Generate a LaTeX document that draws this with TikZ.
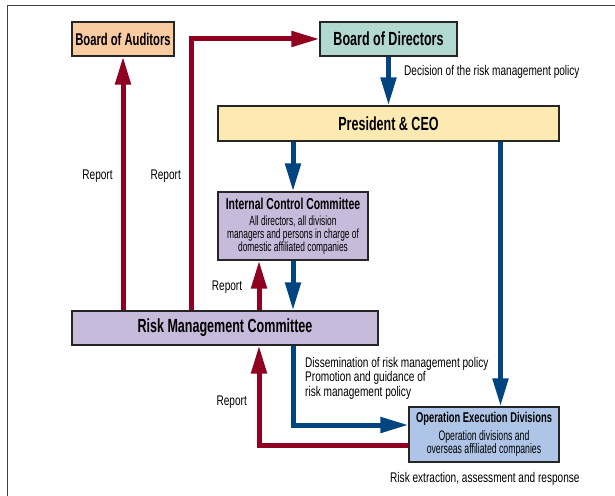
\documentclass[tikz,border=0pt]{standalone}
\usepackage{fontspec}
\setmainfont{Liberation Sans}
\newfontfamily\titlefont[FakeStretch=0.66]{Liberation Sans}
\newfontfamily\subfont[FakeStretch=0.63]{Liberation Sans}
\newfontfamily\lblfont[FakeStretch=0.72]{Liberation Sans}
\usetikzlibrary{arrows.meta}
\definecolor{auditfill}{HTML}{F9CBA0}
\definecolor{dirfill}{HTML}{B2D9D0}
\definecolor{ceofill}{HTML}{FDE9B2}
\definecolor{comfill}{HTML}{C6BBDB}
\definecolor{divfill}{HTML}{AFC5E8}
\definecolor{reportred}{HTML}{900020}
\definecolor{policyblue}{HTML}{00457F}

\begin{document}
\begin{tikzpicture}[
      x=1pt,y=-1pt,
      box/.style={draw=black!85,line width=1.2pt,inner sep=0pt,align=center},
      title/.style={font=\titlefont\bfseries\fontsize{19}{20}\selectfont},
      lbl/.style={font=\lblfont\fontsize{14}{14.5}\selectfont,inner sep=0pt},
      report/.style={line width=5pt,draw=reportred,-{Triangle[length=28pt,width=15pt]}},
      policy/.style={line width=5pt,draw=policyblue,-{Triangle[length=28pt,width=15pt]}},
      ]
      \useasboundingbox (0,0) rectangle (615,495);
      \clip (0,0) rectangle (615,495);
      \draw[draw=black!75,line width=1.5pt] (7.3,5.7) rectangle (650,530);

      % boxes
      \node[box,title,fill=auditfill,minimum width=102pt,minimum height=34pt,
        font=\titlefont\bfseries\fontsize{17}{18}\selectfont] (aud) at (123,39) {Board of Auditors};
      \node[box,title,fill=dirfill,minimum width=137pt,minimum height=34pt] (bod) at (388.5,39) {Board of Directors};
      \node[box,title,fill=ceofill,minimum width=341pt,minimum height=35pt] (ceo) at (388.5,123.5) {President \& CEO};
      \node[box,fill=comfill,minimum width=150pt,minimum height=68pt,
        font=\subfont\fontsize{13.3}{13}\selectfont] (icc) at (293,226)
        {{\titlefont\bfseries\fontsize{15.8}{13}\selectfont Internal Control Committee}\\[3.5pt]
         All directors, all division\\ managers and persons in charge of\\ domestic affiliated companies};
      \node[box,title,fill=comfill,minimum width=306pt,minimum height=34pt] (rmc) at (225,328) {Risk Management Committee};
      \node[box,fill=divfill,minimum width=150pt,minimum height=55pt,
        font=\subfont\fontsize{13.8}{12.7}\selectfont] (oed) at (484,434.5)
        {{\titlefont\bfseries\fontsize{14.2}{12.7}\selectfont Operation Execution Divisions}\\[3.5pt]
         Operation divisions and\\ overseas affiliated companies};

      % report lines
      \draw[report] (rmc.north -| aud.south) -- (aud.south);
      \draw[report] ([xshift=-33.5pt]rmc.north) |- (bod.west);
      \draw[report] ([xshift=-34pt]icc.south |- rmc.north) -- ([xshift=-34pt]icc.south);
      \draw[report] ([yshift=-10.5pt]oed.west) -| ([xshift=-34pt]icc.south |- rmc.south);

      % policy lines
      \draw[policy] (bod.south) -- (bod.south |- ceo.north);
      \draw[policy] (icc.north |- ceo.south) -- (icc.north);
      \draw[policy] (icc.south) -- (icc.south |- rmc.north);
      \draw[policy] (icc.south |- rmc.south) |- ([yshift=9.5pt]oed.west);
      \draw[policy] ([xshift=16.5pt]oed.north |- ceo.south) -- ([xshift=16.5pt]oed.north);

      % labels
      \node[lbl,anchor=west] (decide) at (404,72) {Decision of the risk management policy};
      \node[lbl] (rep1) at (97.5,176) {Report};
      \node[lbl] (rep2) at (165.7,176) {Report};
      \node[lbl] (rep3) at (227,287) {Report};
      \node[lbl] (rep4) at (231.7,402) {Report};
      \node[lbl,anchor=west,align=left] (spread) at (305,378)
        {Dissemination of risk management policy\\ Promotion and guidance of\\ risk management policy};
      \node[lbl,anchor=west] (extract) at (390,478.5) {Risk extraction, assessment and response};
\end{tikzpicture}
\end{document}
